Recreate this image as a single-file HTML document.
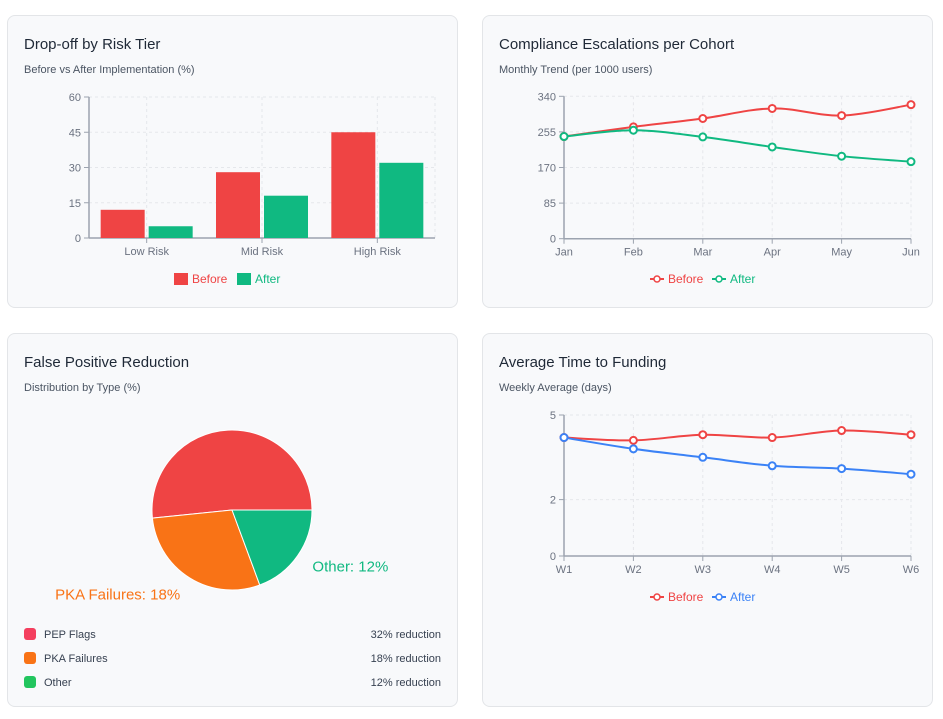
<!DOCTYPE html>
<html><head><meta charset="utf-8"><style>
body{margin:0;background:#fff;font-family:"Liberation Sans",sans-serif;width:943px;height:719px;position:relative;overflow:hidden}
.card{position:absolute;background:#f8f9fb;border:1px solid #e3e5e8;border-radius:8px;box-sizing:border-box}
.t{position:absolute;left:16px;top:20px;font-size:15px;color:#1f2937}
.s{position:absolute;left:16px;top:48px;font-size:11px;color:#4b5563}
svg{position:absolute;left:0;top:0}
svg text{font-family:"Liberation Sans",sans-serif}
</style></head><body>
<div class="card" style="left:7px;top:15px;width:451px;height:293px"><div class="t">Drop-off by Risk Tier</div><div class="s">Before vs After Implementation (%)</div></div>
<div class="card" style="left:482px;top:15px;width:451px;height:293px"><div class="t">Compliance Escalations per Cohort</div><div class="s">Monthly Trend (per 1000 users)</div></div>
<div class="card" style="left:7px;top:333px;width:451px;height:374px"><div class="t">False Positive Reduction</div><div class="s">Distribution by Type (%)</div></div>
<div class="card" style="left:482px;top:333px;width:451px;height:374px"><div class="t">Average Time to Funding</div><div class="s">Weekly Average (days)</div></div>
<svg id="svg" width="943" height="719"></svg>
<script>
const barCats=["Low Risk","Mid Risk","High Risk"];
const barBefore=[12,28,45];
const barAfter=[5,18,32];
const barTicks=[0,15,30,45,60];
const escMonths=["Jan","Feb","Mar","Apr","May","Jun"];
const escBefore=[244,267,287,311,294,320];
const escAfter=[244,259,243,219,197,184];
const escTicks=[0,85,170,255,340];
const fundWeeks=["W1","W2","W3","W4","W5","W6"];
const fundBefore=[4.2,4.1,4.3,4.2,4.45,4.3];
const fundAfter=[4.2,3.8,3.5,3.2,3.1,2.9];
const fundTicks=[0,2,5];
const pieLabels=["PEP Flags","PKA Failures","Other"];
const pieValues=[32,18,12];
const pieColors=["#ef4444","#f97316","#10b981"];

const svg=document.getElementById('svg');const NS="http://www.w3.org/2000/svg";
function el(tag,at,parent){const e=document.createElementNS(NS,tag);for(const k in at)e.setAttribute(k,at[k]);(parent||svg).appendChild(e);return e;}
function txt(x,y,s,at){const e=el('text',Object.assign({x:x,y:y,'font-size':11,fill:'#6b7280'},at));e.textContent=s;return e;}
const RED="#ef4444",GREEN="#10b981",BLUE="#3b82f6";

function axes(x0,x1,y0,y1,ticks,ymax,xs,labels,band){
 const ys=v=>y0-(v/ymax)*(y0-y1);
 ticks.forEach(t=>{const y=ys(t);
  if(t>0){const g=el('line',{x1:x0,x2:x1,y1:y,y2:y,stroke:'#e5e7eb','stroke-dasharray':'3 3'});}
  el('line',{x1:x0-5,x2:x0,y1:y,y2:y,stroke:'#9ca3af'});
  const tl=txt(x0-8,y+4,String(t),{'text-anchor':'end'});});
 labels.forEach((l,i)=>{const x=xs(i);
  el('line',{x1:x,x2:x,y1:y1,y2:y0,stroke:'#e5e7eb','stroke-dasharray':'3 3'});
  el('line',{x1:x,x2:x,y1:y0,y2:y0+5,stroke:'#9ca3af'});
  const tl=txt(x,y0+17,l,{'text-anchor':'middle'});});
 if(band)el('line',{x1:x1,x2:x1,y1:y1,y2:y0,stroke:'#e5e7eb','stroke-dasharray':'3 3'});
 el('line',{x1:x0,x2:x0,y1:y1,y2:y0,stroke:'#9ca3af','stroke-width':1.5});
 el('line',{x1:x0,x2:x1,y1:y0,y2:y0,stroke:'#9ca3af','stroke-width':1.5});
 return ys;
}
(function(){const x0=89,x1=435,y0=238,y1=97;const bw=(x1-x0)/barCats.length;
 const xs=i=>x0+bw*(i+0.5);
 const ys=axes(x0,x1,y0,y1,barTicks,60,xs,barCats,true);
 barCats.forEach((c,i)=>{
  const b1=el('rect',{x:xs(i)-46,y:ys(barBefore[i]),width:44,height:y0-ys(barBefore[i]),fill:RED});
  
  const b2=el('rect',{x:xs(i)+2,y:ys(barAfter[i]),width:44,height:y0-ys(barAfter[i]),fill:GREEN});
  });
 el('rect',{x:174,y:273,width:14,height:12,fill:RED});txt(192,283,'Before',{fill:RED,'font-size':12});
 el('rect',{x:237,y:273,width:14,height:12,fill:GREEN});txt(255,283,'After',{fill:GREEN,'font-size':12});
})();
function smooth(pts){let d='M'+pts[0][0]+','+pts[0][1];
 for(let i=0;i<pts.length-1;i++){const p0=pts[i-1]||pts[i],p1=pts[i],p2=pts[i+1],p3=pts[i+2]||p2;
  const c1=[p1[0]+(p2[0]-p0[0])/6,p1[1]+(p2[1]-p0[1])/6],c2=[p2[0]-(p3[0]-p1[0])/6,p2[1]-(p3[1]-p1[1])/6];
  d+=' C'+c1+' '+c2+' '+p2;}return d;}
function lineChart(x0,x1,y0,y1,ticks,ymax,labels,series,legY){
 const xs=i=>x0+(x1-x0)*i/(labels.length-1);
 const ys=axes(x0,x1,y0,y1,ticks,ymax,xs,labels,false);
 series.forEach(s=>{const pts=s.v.map((v,i)=>[xs(i),ys(v)]);
  const p=el('path',{d:smooth(pts),fill:'none',stroke:s.c,'stroke-width':2});
  
  pts.forEach(q=>{const c=el('circle',{cx:q[0],cy:q[1],r:3.5,fill:'#fff',stroke:s.c,'stroke-width':2});
   });});
 let lx=650;series.forEach((s,k)=>{el('line',{x1:lx,x2:lx+14,y1:legY,y2:legY,stroke:s.c,'stroke-width':2});
  el('circle',{cx:lx+7,cy:legY,r:3,fill:'#fff',stroke:s.c,'stroke-width':1.5});
  txt(lx+18,legY+4,s.label,{fill:s.c,'font-size':12});lx+=62;});
}
lineChart(564,911,238.7,96.3,escTicks,340,escMonths,[{v:escBefore,c:RED,n:'esc-before',label:'Before'},{v:escAfter,c:GREEN,n:'esc-after',label:'After'}],279);
lineChart(564,911,556,415,fundTicks,5,fundWeeks,[{v:fundBefore,c:RED,n:'fund-before',label:'Before'},{v:fundAfter,c:BLUE,n:'fund-after',label:'After'}],597);
(function(){const cx=232,cy=510,r=80;const tot=pieValues.reduce((a,b)=>a+b,0);
 const clip=el('clipPath',{id:'pc'});el('rect',{x:8,y:409,width:450,height:300},clip);
 const g=el('g',{'clip-path':'url(#pc)'});let a=0;
 pieValues.forEach((v,i)=>{const a2=a+v/tot*2*Math.PI;
  const p1=[cx+r*Math.cos(a),cy-r*Math.sin(a)],p2=[cx+r*Math.cos(a2),cy-r*Math.sin(a2)];
  const s=el('path',{d:`M${cx},${cy} L${p1} A${r},${r} 0 ${a2-a>Math.PI?1:0} 0 ${p2} Z`,fill:pieColors[i],stroke:'#fff','stroke-width':1},g);
  
  const m=(a+a2)/2,lr=r+18;const lx=cx+lr*Math.cos(m),ly=cy-lr*Math.sin(m)-12*Math.max(0,Math.sin(m))-3*Math.min(0,Math.sin(m));
  const t=el('text',{x:lx,y:ly+4,'font-size':15,fill:pieColors[i],'text-anchor':Math.cos(m)>0.1?'start':(Math.cos(m)<-0.1?'end':'middle')},g);
  t.textContent=pieLabels[i]+': '+v+'%';
  a=a2;});
 const dots=["#f43f5e","#f97316","#22c55e"];
 pieLabels.forEach((l,i)=>{const y=634+i*24;
  el('rect',{x:24,y:y-6,width:12,height:12,rx:3,fill:dots[i]});
  const a1=txt(44,y+4,l,{fill:'#374151'});
  txt(441,y+4,pieValues[i]+'% reduction',{fill:'#374151','text-anchor':'end'});});
})();
</script>
</body></html>
